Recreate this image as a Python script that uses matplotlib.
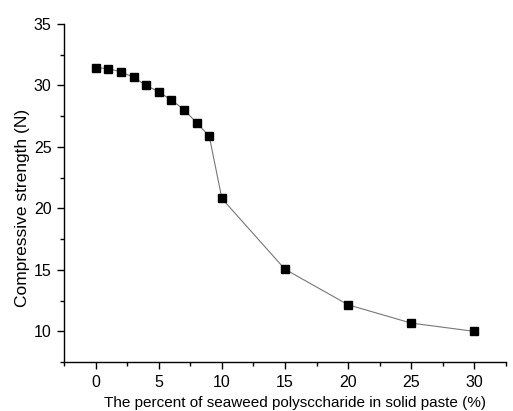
import matplotlib
matplotlib.use('Agg')
import matplotlib.pyplot as plt
from matplotlib.ticker import MultipleLocator

plt.rcParams['font.family'] = ['Liberation Sans', 'DejaVu Sans']

percent = [0, 1, 2, 3, 4, 5, 6, 7, 8, 9, 10, 15, 20, 25, 30]
strength = [31.45, 31.35, 31.1, 30.65, 30.0, 29.47, 28.8, 28.03, 26.95, 25.87,
            20.8, 15.05, 12.16, 10.67, 10.0]

fig = plt.figure(figsize=(5.13, 4.11), dpi=100)
ax = fig.add_axes([0.125, 0.119, 0.861, 0.823])

ax.plot(percent, strength, color='#777777', lw=0.8, marker='s', ms=5.2,
        mfc='black', mec='black')

ax.set_xlim(-2.5, 32.5)
ax.set_ylim(7.5, 35)
ax.xaxis.set_major_locator(MultipleLocator(5))
ax.xaxis.set_minor_locator(MultipleLocator(2.5))
ax.yaxis.set_major_locator(MultipleLocator(5))
ax.yaxis.set_minor_locator(MultipleLocator(2.5))

for s in ['top', 'right']:
    ax.spines[s].set_visible(False)
for s in ['left', 'bottom']:
    ax.spines[s].set_linewidth(1.0)

ax.tick_params(which='major', direction='out', length=5, width=1, labelsize=11.5, pad=4)
ax.tick_params(which='minor', direction='out', length=3, width=1)

ax.set_xlabel('The percent of seaweed polysccharide in solid paste (%)', fontsize=11)
ax.set_ylabel('Compressive strength (N)', fontsize=12.5)
ax.xaxis.set_label_coords(0.522, -0.1)
ax.yaxis.set_label_coords(-0.078, 0.456)

fig.savefig('out.png', dpi=100)
